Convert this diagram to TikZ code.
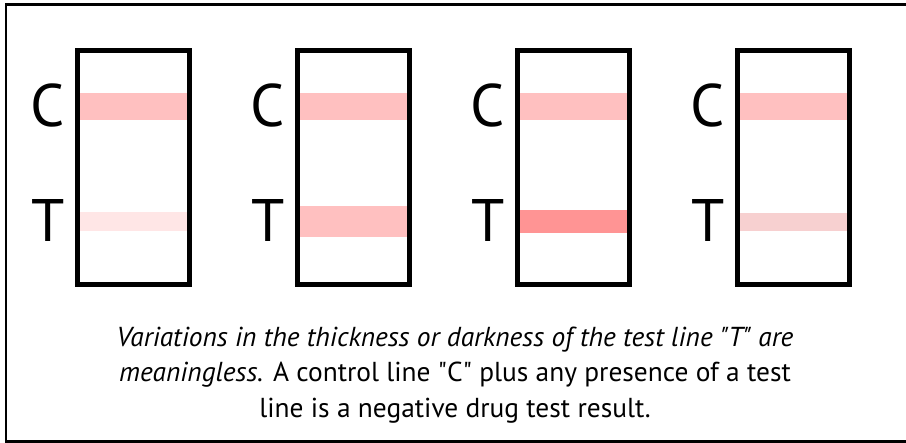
\documentclass[tikz,border=0pt]{standalone}
\usepackage{fontspec}
\setmainfont{PT Sans}
\definecolor{bandC}{HTML}{FFC0C0}
\definecolor{tA}{HTML}{FFE6E6}
\definecolor{tB}{HTML}{FFC0C0}
\definecolor{tC}{HTML}{FF9494}
\definecolor{tD}{HTML}{F7D0D0}
\begin{document}
\begin{tikzpicture}[x=1pt,y=-1pt,
  strip/.style={draw=black,line width=5pt},
  lbl/.style={font=\fontsize{60}{60}\selectfont,inner sep=0pt,anchor=east},
  caption/.style={align=center,font=\fontsize{27.4}{35.5}\selectfont,inner sep=0pt}]
\useasboundingbox (0,0) rectangle (906,443);
\fill[white] (0,0) rectangle (906,443);
\draw[line width=2.5pt] (920,4.5) -- (6,4.5) -- (6,441.5) -- (920,441.5);
\foreach \i/\tc/\ta/\tb in {0/tA/212/231,1/tB/206/237,2/tC/210/233,3/tD/213/231}{
  \pgfmathsetmacro{\xo}{77.5+220*\i}
  \fill[bandC] (\xo,93) rectangle ({\xo+112},120);
  \fill[\tc] (\xo,\ta) rectangle ({\xo+112},\tb);
  \draw[strip] (\xo,50.5) rectangle ({\xo+112},284.5);
  \node[lbl] at ({\xo-13},106) {C};
  \node[lbl] at ({\xo-13},221) {T};
}
\node[caption] (cap) at (455,375) {\itshape Variations in the thickness or darkness of the test line \textquotedbl T\textquotedbl{} are\\
\itshape meaningless.\upshape{} A control line \textquotedbl C\textquotedbl{} plus any presence of a test\\
line is a negative drug test result.};
\end{tikzpicture}
\end{document}
